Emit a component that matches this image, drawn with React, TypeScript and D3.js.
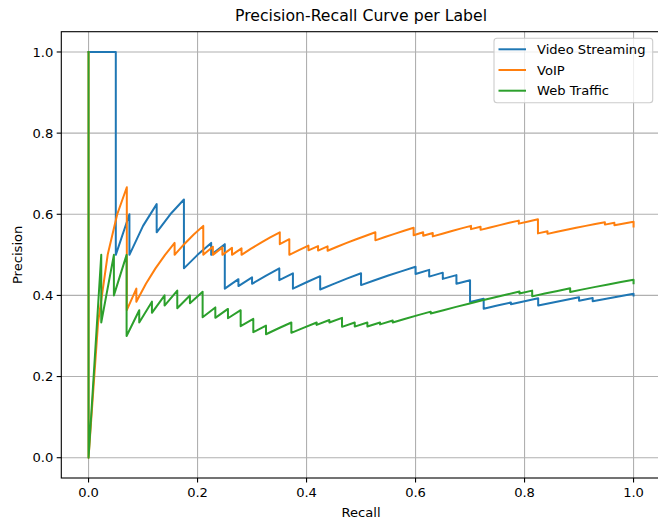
import React from "react";
import * as d3 from "d3";

const xTicks = [0, 0.2, 0.4, 0.6, 0.8, 1.0];
const yTicks = [0, 0.2, 0.4, 0.6, 0.8, 1.0];
const seriesNames = ["Video Streaming", "VoIP", "Web Traffic"];
const seriesColors = ["#1f77b4", "#ff7f0e", "#2ca02c"];

// [recall, precision]
const videoStreaming: [number, number][] = [
  [0, 1], [0.025, 1], [0.05, 1], [0.05, 0.5], [0.075, 0.6], [0.075, 0.5], [0.1, 0.5714],
  [0.125, 0.625], [0.125, 0.5556], [0.15, 0.6], [0.175, 0.6364], [0.175, 0.4667], [0.2, 0.5],
  [0.225, 0.5294], [0.225, 0.5], [0.25, 0.5263], [0.25, 0.4167], [0.275, 0.44], [0.275, 0.4231],
  [0.3, 0.4444], [0.3, 0.4286], [0.325, 0.4483], [0.35, 0.4667], [0.35, 0.4375], [0.375, 0.4545],
  [0.375, 0.4167], [0.4, 0.4324], [0.425, 0.4474], [0.425, 0.4146], [0.45, 0.4286], [0.475, 0.4419],
  [0.5, 0.4545], [0.5, 0.4255], [0.525, 0.4375], [0.55, 0.449], [0.575, 0.46], [0.6, 0.4706],
  [0.6, 0.4528], [0.625, 0.463], [0.625, 0.4464], [0.65, 0.4561], [0.65, 0.4407], [0.675, 0.45],
  [0.675, 0.4286], [0.7, 0.4375], [0.7, 0.3836], [0.725, 0.3919], [0.725, 0.3671], [0.75, 0.375],
  [0.775, 0.3827], [0.775, 0.378], [0.8, 0.3855], [0.825, 0.3929], [0.825, 0.375], [0.85, 0.382],
  [0.875, 0.3889], [0.9, 0.3956], [0.9, 0.3871], [0.925, 0.3936], [0.925, 0.3854], [0.95, 0.3918],
  [0.975, 0.398], [1.0, 0.404], [1.0, 0.4],
];

const voip: [number, number][] = [
  [0, 1], [0, 0], [0.0175, 0.3333], [0.0351, 0.5], [0.0526, 0.6], [0.0702, 0.6667], [0.0702, 0.3636],
  [0.0877, 0.4167], [0.0877, 0.3846], [0.1053, 0.4286], [0.1228, 0.4667], [0.1404, 0.5], [0.1579, 0.5294],
  [0.1579, 0.5], [0.1754, 0.5263], [0.193, 0.55], [0.2105, 0.5714], [0.2105, 0.5], [0.2281, 0.52],
  [0.2281, 0.5], [0.2456, 0.5185], [0.2456, 0.5], [0.2632, 0.5172], [0.2632, 0.5], [0.2807, 0.5161],
  [0.2807, 0.5], [0.2982, 0.5152], [0.3158, 0.5294], [0.3333, 0.5429], [0.3509, 0.5556], [0.3509, 0.5263],
  [0.3684, 0.5385], [0.3684, 0.5], [0.386, 0.5116], [0.4035, 0.5227], [0.4035, 0.5111], [0.4211, 0.5217],
  [0.4211, 0.5106], [0.4386, 0.5208], [0.4386, 0.5102], [0.4561, 0.52], [0.4737, 0.5294], [0.4912, 0.5385],
  [0.5088, 0.5472], [0.5263, 0.5556], [0.5263, 0.5357], [0.5439, 0.5439], [0.5614, 0.5517], [0.5789, 0.5593],
  [0.5965, 0.5667], [0.5965, 0.5484], [0.614, 0.5556], [0.614, 0.5469], [0.6316, 0.5538], [0.6316, 0.5455],
  [0.6491, 0.5522], [0.6667, 0.5588], [0.6842, 0.5652], [0.7018, 0.5714], [0.7018, 0.5634], [0.7193, 0.5694],
  [0.7193, 0.5616], [0.7368, 0.5676], [0.7544, 0.5733], [0.7719, 0.5789], [0.7895, 0.5844], [0.7895, 0.5769],
  [0.807, 0.5823], [0.8246, 0.5875], [0.8246, 0.5529], [0.8421, 0.5581], [0.8421, 0.5517], [0.8596, 0.5568],
  [0.8772, 0.5618], [0.8947, 0.5667], [0.9123, 0.5714], [0.9298, 0.5761], [0.9474, 0.5806], [0.9474, 0.5745],
  [0.9649, 0.5789], [0.9649, 0.5729], [0.9825, 0.5773], [1.0, 0.5816], [1.0, 0.57],
];

const webTraffic: [number, number][] = [
  [0, 1], [0, 0], [0.0233, 0.5], [0.0233, 0.3333], [0.0465, 0.5], [0.0465, 0.4], [0.0698, 0.5],
  [0.0698, 0.3], [0.093, 0.3636], [0.093, 0.3333], [0.1163, 0.3846], [0.1163, 0.3571], [0.1395, 0.4],
  [0.1395, 0.375], [0.1628, 0.4118], [0.1628, 0.3684], [0.186, 0.4], [0.186, 0.381], [0.2093, 0.4091],
  [0.2093, 0.3462], [0.2326, 0.3704], [0.2326, 0.3448], [0.2558, 0.3667], [0.2558, 0.3438], [0.2791, 0.3636],
  [0.2791, 0.3243], [0.3023, 0.3421], [0.3023, 0.3095], [0.3256, 0.3256], [0.3256, 0.3043], [0.3488, 0.3191],
  [0.3721, 0.3333], [0.3721, 0.3077], [0.3953, 0.3208], [0.4186, 0.3333], [0.4186, 0.3273], [0.4419, 0.3393],
  [0.4419, 0.3333], [0.4651, 0.3448], [0.4651, 0.3226], [0.4884, 0.3333], [0.4884, 0.3231], [0.5116, 0.3333],
  [0.5116, 0.3235], [0.5349, 0.3333], [0.5349, 0.3286], [0.5581, 0.338], [0.5581, 0.3333], [0.5814, 0.3425],
  [0.6047, 0.3514], [0.6279, 0.36], [0.6279, 0.3553], [0.6512, 0.3636], [0.6744, 0.3718], [0.6977, 0.3797],
  [0.7209, 0.3875], [0.7442, 0.3951], [0.7674, 0.4024], [0.7907, 0.4096], [0.7907, 0.4048], [0.814, 0.4118],
  [0.814, 0.3977], [0.8372, 0.4045], [0.8605, 0.4111], [0.8837, 0.4176], [0.8837, 0.4086], [0.907, 0.4149],
  [0.9302, 0.4211], [0.9535, 0.4271], [0.9767, 0.433], [1.0, 0.4388], [1.0, 0.43],
];

const allSeries = [videoStreaming, voip, webTraffic];

const W = 658;
const H = 520;
const AX = { left: 61.3, right: 660.8, top: 31.7, bottom: 478 };
const FONT = "'DejaVu Sans', sans-serif";

export default function App() {
  const x = d3.scaleLinear().domain([-0.05, 1.05]).range([AX.left, AX.right]);
  const y = d3.scaleLinear().domain([-0.05, 1.05]).range([AX.bottom, AX.top]);
  const line = d3
    .line<[number, number]>()
    .x((d) => x(d[0]))
    .y((d) => y(d[1]));
  const fmt = d3.format(".1f");

  return (
    <svg
      width={W}
      height={H}
      style={{ position: "absolute", left: 0, top: 0, background: "#fff" }}
      fontFamily={FONT}
    >
      <defs>
        <clipPath id="axclip">
          <rect x={AX.left} y={AX.top} width={AX.right - AX.left} height={AX.bottom - AX.top} />
        </clipPath>
      </defs>
      <rect x={0} y={0} width={W} height={H} fill="#fff" />
      {/* grid */}
      <g stroke="#b0b0b0" strokeWidth={1.1}>
        {xTicks.map((t) => (
          <line key={"gx" + t} x1={x(t)} x2={x(t)} y1={AX.top} y2={AX.bottom} />
        ))}
        {yTicks.map((t) => (
          <line key={"gy" + t} x1={AX.left} x2={AX.right} y1={y(t)} y2={y(t)} />
        ))}
      </g>
      {/* series */}
      <g clipPath="url(#axclip)" fill="none" strokeWidth={2} strokeLinejoin="round" strokeLinecap="square">
        {allSeries.map((s, i) => (
          <path key={i} d={line(s) || ""} stroke={seriesColors[i]} />
        ))}
      </g>
      {/* frame */}
      <rect
        x={AX.left}
        y={AX.top}
        width={AX.right - AX.left}
        height={AX.bottom - AX.top}
        fill="none"
        stroke="#000"
        strokeWidth={1.1}
      />
      {/* x ticks */}
      {xTicks.map((t) => (
        <g key={"xt" + t}>
          <line x1={x(t)} x2={x(t)} y1={AX.bottom} y2={AX.bottom + 4.6} stroke="#000" strokeWidth={1.1} />
          <text x={x(t)} y={AX.bottom + 19} textAnchor="middle" fontSize={13.1} fill="#000">
            {fmt(t)}
          </text>
        </g>
      ))}
      {/* y ticks */}
      {yTicks.map((t) => (
        <g key={"yt" + t}>
          <line x1={AX.left - 4.6} x2={AX.left} y1={y(t)} y2={y(t)} stroke="#000" strokeWidth={1.1} />
          <text x={AX.left - 8} y={y(t)} dy="0.36em" textAnchor="end" fontSize={13.1} fill="#000">
            {fmt(t)}
          </text>
        </g>
      ))}
      <text x={(AX.left + AX.right) / 2} y={517} textAnchor="middle" fontSize={13.1} fill="#000">
        Recall
      </text>
      <text
        transform={`translate(${22},${(AX.top + AX.bottom) / 2}) rotate(-90)`}
        textAnchor="middle"
        fontSize={13.1}
        fill="#000"
      >
        Precision
      </text>
      <text x={(AX.left + AX.right) / 2} y={21} textAnchor="middle" fontSize={15.7} fill="#000">
        Precision-Recall Curve per Label
      </text>
      {/* legend */}
      <g>
        <rect x={494} y={38.3} width={158.7} height={64.4} rx={3} fill="#fff" fillOpacity={0.8} stroke="#cccccc" strokeWidth={1.1} />
        {seriesNames.map((n, i) => (
          <g key={n} transform={`translate(0,${49.3 + i * 20.7})`}>
            <line x1={498.5} x2={526} y1={0} y2={0} stroke={seriesColors[i]} strokeWidth={2} />
            <text x={537} y={0} dy="0.36em" fontSize={13.1} fill="#000">
              {n}
            </text>
          </g>
        ))}
      </g>
    </svg>
  );
}
